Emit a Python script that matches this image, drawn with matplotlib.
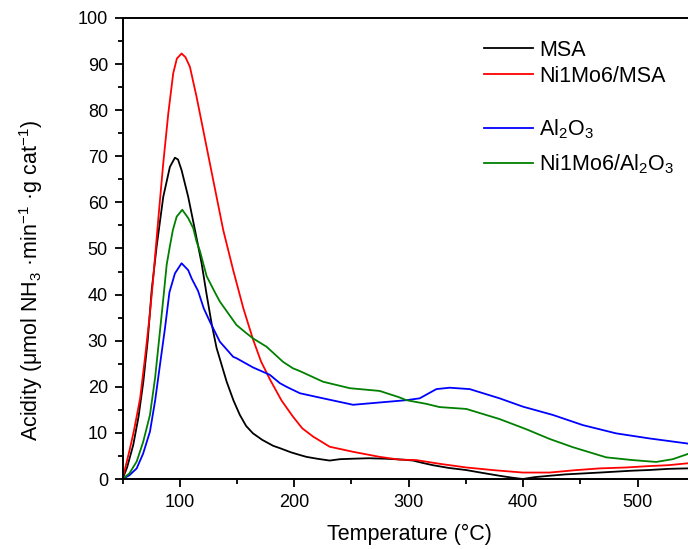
import matplotlib
matplotlib.use("Agg")
import matplotlib.pyplot as plt
from matplotlib.lines import Line2D
from matplotlib.ticker import MultipleLocator

plt.rcParams["font.family"] = ["Liberation Sans", "DejaVu Sans"]
plt.rcParams["mathtext.fontset"] = "custom"
plt.rcParams["mathtext.rm"] = "Liberation Sans"
plt.rcParams["mathtext.it"] = "Liberation Sans"
plt.rcParams["mathtext.default"] = "regular"

# NH3-TPD acidity profiles (temperature in °C, acidity in µmol NH3/min/g cat)
t_msa = [50, 54, 59.4, 64, 68.2, 72, 75.5, 79.8, 85.6, 91.4, 95.8, 98.5, 101.6,
         107.4, 113.3, 119.1, 123.5, 128, 132.2, 141, 147, 152.5, 158, 164, 172,
         181.6, 187.4, 197, 205, 210.7, 220, 231, 240, 251.4, 265, 280, 295,
         303.8, 312, 321, 335, 350, 365, 379.4, 390, 399.7, 410, 423, 437, 452,
         467, 481, 495, 510, 527, 543.5]
a_msa = [0, 2.5, 7.4, 13.5, 21.1, 30, 41, 50.4, 61.2, 67.7, 69.7, 69.3, 67,
         61.2, 54, 46.8, 40, 33.5, 28.4, 21.1, 17, 13.9, 11.5, 9.9, 8.5,
         7.2, 6.7, 5.8, 5.2, 4.8, 4.4, 4.0, 4.3, 4.4, 4.5, 4.4, 4.2,
         4.0, 3.5, 3.0, 2.4, 1.95, 1.3, 0.7, 0.3, 0.0, 0.4, 0.7, 1.0, 1.2,
         1.4, 1.6, 1.8, 1.95, 2.2, 2.3]

t_nimsa = [50, 53, 56.6, 60, 65.4, 70, 74, 77, 81.2, 85.6, 90, 94.3, 97.5,
           101.6, 105, 108.9, 114.7, 120.5, 129.2, 138, 146.7, 155.6, 164,
           171, 179, 189, 199, 207, 216.5, 231, 251.4, 274.7, 292, 306.7, 327,
           350.3, 375, 399.7, 423, 445, 466.7, 490, 510, 527, 543.5]
a_nimsa = [0, 3, 6.7, 10.5, 17.5, 27, 36, 44, 56.2, 68.5, 79.3, 88, 91.2,
           92.3, 91.5, 89.4, 82.9, 75.7, 64.9, 54, 45.3, 37, 30.3,
           25.5, 21.5, 17, 13.5, 11, 9.2, 7.0, 5.9, 4.8, 4.2, 4.1, 3.3,
           2.5, 1.9, 1.4, 1.4, 1.9, 2.3, 2.5, 2.8, 3.0, 3.4]

t_al = [50, 56, 62.4, 68, 74, 78.5, 82.7, 87, 91, 95.8, 101.6, 107.4, 110.4,
        116, 121, 126.4, 135, 146.7, 149.6, 164, 178.7, 187.4, 193.3, 205,
        225.2, 251.4, 274.7, 298, 309.6, 324.2, 335.8, 353.3, 379.4, 399.7,
        425.9, 452, 481.2, 510.3, 543.5]
a_al = [0, 0.8, 2.3, 5.5, 10.3, 17, 24.7, 32.5, 40.5, 44.6, 46.8, 45.3, 43.5,
        40.8, 37, 34.1, 29.8, 26.5, 26.2, 24.2, 22.6, 20.8, 20.0, 18.6,
        17.5, 16.1, 16.6, 17.1, 17.5, 19.5, 19.8, 19.5, 17.5, 15.7,
        13.9, 11.7, 9.9, 8.8, 7.7]

t_nial = [50, 56, 62.4, 68, 74, 78.5, 82.7, 86, 88.6, 91.4, 94, 97.3, 102.2,
          107.4, 111.8, 114.7, 117.6, 123.5, 130.7, 135, 149.6, 158.4, 164,
          175.8, 190.3, 199, 205, 225.2, 248.5, 274.7, 292, 298, 315.4, 327,
          350.3, 379.4, 402.7, 423, 443.4, 472.5, 495.7, 516.2, 530.7, 543.5]
a_nial = [0, 1.2, 3.8, 8, 13.9, 22, 32, 40, 46.5, 50.5, 54, 56.9, 58.4,
          56.6, 54.4, 51.5, 49.5, 44, 40.5, 38.5, 33.4, 31.6, 30.5,
          28.7, 25.4, 24, 23.4, 21.1, 19.7, 19.1, 17.7, 17.1, 16.3, 15.6,
          15.2, 13.0, 10.8, 8.7, 6.9, 4.7, 4.1, 3.7, 4.3, 5.4]

series = [
    ("MSA", t_msa, a_msa, "#000000"),
    ("Ni1Mo6/MSA", t_nimsa, a_nimsa, "#ff0000"),
    ("Al$_2$O$_3$", t_al, a_al, "#0000ff"),
    ("Ni1Mo6/Al$_2$O$_3$", t_nial, a_nial, "#008000"),
]

fig = plt.figure(figsize=(6.88, 5.49), dpi=100)
ax = fig.add_axes([122.5 / 688, 1 - 479 / 549, 1 - 122.5 / 688, (479 - 18) / 549])

for label, t, a, c in series:
    ax.plot(t, a, color=c, lw=1.3, solid_joinstyle="round")

ax.set_xlim(50, 544)
ax.set_ylim(0, 100)
ax.set_xticks([100, 200, 300, 400, 500])
ax.xaxis.set_minor_locator(MultipleLocator(50))
ax.yaxis.set_major_locator(MultipleLocator(10))
ax.yaxis.set_minor_locator(MultipleLocator(5))
ax.tick_params(which="major", direction="out", length=6, width=1.3, labelsize=13)
ax.tick_params(which="minor", direction="out", length=3.5, width=1.3)
ax.tick_params(axis="x", which="major", pad=4.5)
ax.tick_params(axis="y", which="major", pad=4.5)
for side in ("left", "bottom", "top"):
    ax.spines[side].set_linewidth(1.4)
ax.spines["right"].set_visible(False)

ax.set_xlabel("Temperature (°C)", fontsize=15.5)
ax.xaxis.set_label_coords(0.507, -0.097)
ax.set_ylabel("Acidity (μmol NH$_3$ ·min$^{-1}$ ·g cat$^{-1}$)", fontsize=15.5)
ax.yaxis.set_label_coords(-0.137, 0.43)

# legend, split into two groups
ax_h = 461.0
rows = [48, 74, 128, 163]
x0, x1, xt = (484 - 122.5) / 565.5, (533 - 122.5) / 565.5, (539 - 122.5) / 565.5
for (label, t, a, c), yp in zip(series, rows):
    yf = (479 - yp) / ax_h
    ax.add_line(Line2D([x0, x1], [yf, yf], transform=ax.transAxes, color=c, lw=1.3))
    ax.text(xt, (479 - (yp + 7.5)) / ax_h, label, transform=ax.transAxes,
            fontsize=15.5, va="baseline", ha="left")

fig.savefig("out.png", dpi=100)
